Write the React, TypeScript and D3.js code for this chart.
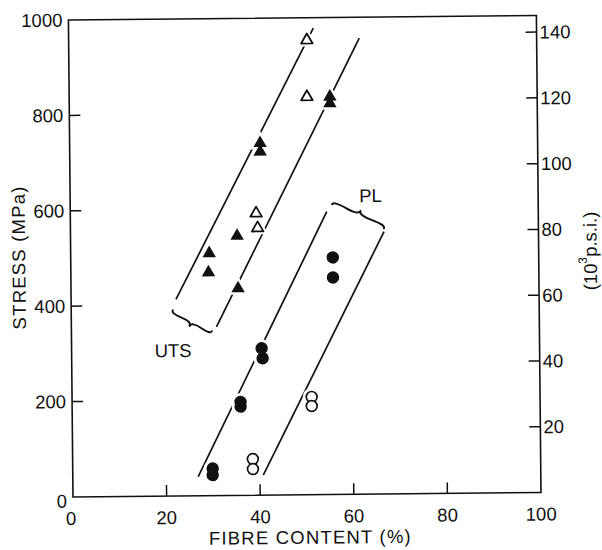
import React from 'react';
import * as d3 from 'd3';

const W = 602;
const H = 550;

// Ultimate tensile strength (triangles) — fibre content (%) vs stress (MPa)
const utsSolidFibre = [29.6, 29.4, 35.6, 35.7, 40.7, 40.7, 55.7, 55.7];
const utsSolidStress = [508, 468, 544, 434, 738, 720, 834, 820];
const utsOpenFibre = [39.7, 40.0, 50.9, 50.8];
const utsOpenStress = [591, 560, 953, 834];

// Proportional limit (circles)
const plSolidFibre = [29.9, 29.9, 36.0, 36.0, 40.6, 40.8, 56.0, 56.0];
const plSolidStress = [57, 43, 196, 186, 308, 287, 497, 455];
const plOpenFibre = [38.5, 38.5, 51.2, 51.2];
const plOpenStress = [76, 55, 205, 186];

// Scatter-band boundary lines: start (fibre, stress) and end (fibre, stress)
const bandNames = ['UTS lower', 'UTS upper', 'PL lower', 'PL upper'];
const bandFibre0 = [22.4, 31.0, 26.8, 40.7];
const bandStress0 = [412, 354, 40, 42];
const bandFibre1 = [52.3, 62.1, 54.8, 67.0];
const bandStress1 = [978, 956, 593, 550];

// Axes
const fibreTicks = [0, 20, 40, 60, 80, 100];
const stressTicks = [0, 200, 400, 600, 800, 1000];
const ksiTicks = [20, 40, 60, 80, 100, 120, 140];
const MPA_PER_KSI = 6.895;

const margin = { left: 73, right: 61, top: 20, bottom: 53 };
const x = d3.scaleLinear().domain([0, 100]).range([margin.left, W - margin.right]);
const y = d3.scaleLinear().domain([0, 1000]).range([H - margin.bottom, margin.top]);
const yKsi = (v: number) => y(v * MPA_PER_KSI);

const FONT = "'Liberation Sans', Arial, Helvetica, sans-serif";
const INK = '#111';

type Pt = [number, number];

function bracePath(p1: Pt, p2: Pt, w: number, q: number): string {
  const [x1, y1] = p1;
  const [x2, y2] = p2;
  let dx = x1 - x2;
  let dy = y1 - y2;
  const len = Math.sqrt(dx * dx + dy * dy);
  dx /= len;
  dy /= len;
  const qx1 = x1 + q * w * dy;
  const qy1 = y1 - q * w * dx;
  const qx2 = x1 - 0.25 * len * dx + (1 - q) * w * dy;
  const qy2 = y1 - 0.25 * len * dy - (1 - q) * w * dx;
  const tx1 = x1 - 0.5 * len * dx + w * dy;
  const ty1 = y1 - 0.5 * len * dy - w * dx;
  const qx3 = x2 + q * w * dy;
  const qy3 = y2 - q * w * dx;
  const qx4 = x1 - 0.75 * len * dx + (1 - q) * w * dy;
  const qy4 = y1 - 0.75 * len * dy - (1 - q) * w * dx;
  return `M${x1},${y1} Q${qx1},${qy1} ${qx2},${qy2} T${tx1},${ty1} M${x2},${y2} Q${qx3},${qy3} ${qx4},${qy4} T${tx1},${ty1}`;
}

// Curly brace closing the ends of two band lines.
// `outer` / `inner`: the end of the first line and its other end; `other`: end of the second line.
function bandBrace(outer: Pt, inner: Pt, other: Pt, gap: number, inset: number, w: number): string {
  const ux0 = outer[0] - inner[0];
  const uy0 = outer[1] - inner[1];
  const ul = Math.hypot(ux0, uy0);
  const u: Pt = [ux0 / ul, uy0 / ul];
  let n: Pt = [-u[1], u[0]];
  const rel: Pt = [other[0] - outer[0], other[1] - outer[1]];
  if (n[0] * rel[0] + n[1] * rel[1] < 0) n = [-n[0], -n[1]];
  const perp = n[0] * rel[0] + n[1] * rel[1];
  const p1: Pt = [outer[0] + u[0] * gap + n[0] * inset, outer[1] + u[1] * gap + n[1] * inset];
  const p2: Pt = [
    outer[0] + u[0] * (gap + 1) + n[0] * (perp - inset),
    outer[1] + u[1] * (gap + 1) + n[1] * (perp - inset),
  ];
  // bulge must point away from the band
  const d: Pt = [p1[0] - p2[0], p1[1] - p2[1]];
  const b: Pt = [d[1], -d[0]];
  const sign = b[0] * u[0] + b[1] * u[1] >= 0 ? 1 : -1;
  return bracePath(p1, p2, w * sign, 0.6);
}

const triPath = d3.symbol().type(d3.symbolTriangle).size(78)() as string;
const triOpenPath = d3.symbol().type(d3.symbolTriangle).size(58)() as string;
const triHalo = d3.symbol().type(d3.symbolTriangle).size(200)() as string;

export default function App() {
  const bands = bandNames.map((name, i) => ({
    name,
    a: [x(bandFibre0[i]), y(bandStress0[i])] as Pt,
    b: [x(bandFibre1[i]), y(bandStress1[i])] as Pt,
  }));

  const utsBrace = bandBrace(bands[0].a, bands[0].b, bands[1].a, 11, 2, 6);
  const plBrace = bandBrace(bands[2].b, bands[2].a, bands[3].b, 9, 1.5, 6);

  const utsSolid = utsSolidFibre.map((f, i) => [x(f), y(utsSolidStress[i])] as Pt);
  const utsOpen = utsOpenFibre.map((f, i) => [x(f), y(utsOpenStress[i])] as Pt);
  const plSolid = plSolidFibre.map((f, i) => [x(f), y(plSolidStress[i])] as Pt);
  const plOpen = plOpenFibre.map((f, i) => [x(f), y(plOpenStress[i])] as Pt);

  const x0 = x(0);
  const x1 = x(100);
  const y0 = y(0);
  const y1 = y(1000);
  const tickLen = 11;
  const fs = 18.5;

  return (
    <svg
      width={W}
      height={H}
      viewBox={`0 0 ${W} ${H}`}
      style={{ position: 'absolute', left: 0, top: 0, background: '#fff' }}
    >
      <rect width={W} height={H} fill="#fff" />
      <g transform={`rotate(-0.55, ${x0}, ${y0})`} fontFamily={FONT} fill={INK}>
        {/* frame */}
        <path d={`M${x0},${y1} H${x1} V${y0} H${x0} Z`} fill="none" stroke={INK} strokeWidth={1.6} />

        {/* bottom ticks and labels */}
        {fibreTicks.map((t) => (
          <g key={`xt${t}`}>
            {t > 0 && t < 100 && (
              <line x1={x(t)} x2={x(t)} y1={y0} y2={y0 - tickLen} stroke={INK} strokeWidth={1.5} />
            )}
            <text x={x(t) - (t === 0 ? 2 : 0)} y={y0 + 28} fontSize={fs} textAnchor="middle">
              {t}
            </text>
          </g>
        ))}

        {/* left ticks and labels */}
        {stressTicks.map((t) => (
          <g key={`yt${t}`}>
            {t > 0 && t < 1000 && (
              <line x1={x0} x2={x0 + tickLen} y1={y(t)} y2={y(t)} stroke={INK} strokeWidth={1.5} />
            )}
            <text x={x0 - 6} y={y(t) + (t === 0 ? 4 : 0)} fontSize={fs} textAnchor="end" dominantBaseline="central">
              {t}
            </text>
          </g>
        ))}

        {/* right ticks and labels (10^3 p.s.i.) */}
        {ksiTicks.map((t) => (
          <g key={`rt${t}`}>
            <line x1={x1} x2={x1 - tickLen} y1={yKsi(t)} y2={yKsi(t)} stroke={INK} strokeWidth={1.5} />
            <text x={x1 + 3} y={yKsi(t)} fontSize={fs} textAnchor="start" dominantBaseline="central">
              {t}
            </text>
          </g>
        ))}

        {/* axis titles */}
        <text x={(x0 + x1) / 2 + 3} y={546} fontSize={fs} textAnchor="middle" letterSpacing={1.2}>
          FIBRE CONTENT (%)
        </text>
        <text
          transform={`translate(21, 257) rotate(-90)`}
          fontSize={fs}
          textAnchor="middle"
          dominantBaseline="central"
          letterSpacing={1.2}
        >
          STRESS (MPa)
        </text>
        <text
          transform={`translate(592, 256) rotate(-90)`}
          fontSize={fs}
          textAnchor="middle"
          dominantBaseline="central"
        >
          <tspan>(10</tspan>
          <tspan fontSize={12} dy={-7}>3</tspan>
          <tspan dy={7}>p.s.i.)</tspan>
        </text>

        {/* scatter bands */}
        {bands.map((bd) => (
          <line
            key={bd.name}
            x1={bd.a[0]}
            y1={bd.a[1]}
            x2={bd.b[0]}
            y2={bd.b[1]}
            stroke={INK}
            strokeWidth={1.7}
          />
        ))}
        <path d={utsBrace} fill="none" stroke={INK} strokeWidth={1.9} strokeLinecap="round" />
        <path d={plBrace} fill="none" stroke={INK} strokeWidth={1.9} strokeLinecap="round" />

        <text x={156} y={358} fontSize={fs}>UTS</text>
        <text x={362} y={205} fontSize={fs}>PL</text>

        {/* white halos break the band lines around the markers */}
        {[...utsSolid, ...utsOpen].map((p, i) => (
          <path key={`th${i}`} d={triHalo} transform={`translate(${p[0]},${p[1]})`} fill="#fff" />
        ))}
        {[...plSolid, ...plOpen].map((p, i) => (
          <circle key={`ch${i}`} cx={p[0]} cy={p[1]} r={9} fill="#fff" />
        ))}

        {/* markers */}
        {utsSolid.map((p, i) => (
          <path key={`ts${i}`} d={triPath} transform={`translate(${p[0]},${p[1]})`} fill={INK} />
        ))}
        {utsOpen.map((p, i) => (
          <path
            key={`to${i}`}
            d={triOpenPath}
            transform={`translate(${p[0]},${p[1]})`}
            fill="#fff"
            stroke={INK}
            strokeWidth={1.8}
            strokeLinejoin="round"
          />
        ))}
        {plSolid.map((p, i) => (
          <circle key={`cs${i}`} cx={p[0]} cy={p[1]} r={6.2} fill={INK} />
        ))}
        {plOpen.map((p, i) => (
          <circle key={`co${i}`} cx={p[0]} cy={p[1]} r={5.4} fill="#fff" stroke={INK} strokeWidth={1.7} />
        ))}
      </g>
    </svg>
  );
}
